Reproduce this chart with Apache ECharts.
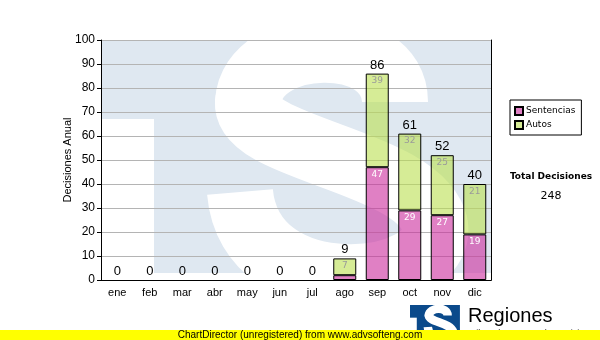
<!DOCTYPE html>
<html>
<head>
<meta charset="utf-8">
<script src="https://cdn.jsdelivr.net/npm/echarts@6/dist/echarts.min.js"></script>
<style>html,body{margin:0;padding:0;background:#fff}#c{width:600px;height:340px}</style>
</head>
<body>
<div id="c"></div>
<script>
const categories = ['ene','feb','mar','abr','may','jun','jul','ago','sep','oct','nov','dic'];
const sentencias = [0,0,0,0,0,0,0,2,47,29,27,19];
const autos = [0,0,0,0,0,0,0,7,39,32,25,21];
const totals = [0,0,0,0,0,0,0,9,86,61,52,40];
const yMin = 0, yMax = 100, yStep = 10;
const totalDecisiones = totals.reduce((a,b)=>a+b,0);

function mark(blue, white, top) {
  const sw = {stroke:white, lineWidth:66, fill:'none', lineCap:'butt'};
  return [
    {type:'rect', shape:{x:101,y:top,width:390,height:273-top}, style:{fill:blue}},
    {type:'rect', shape:{x:101,y:119,width:53,height:154}, style:{fill:white}},
    {type:'bezierCurve', shape:{x1:395,y1:102,cpx1:395,cpy1:30,cpx2:252,cpy2:35,x2:248,y2:102}, style:sw},
    {type:'bezierCurve', shape:{x1:248,y1:102,cpx1:245,cpy1:150,cpx2:420,cpy2:160,x2:435,y2:225}, style:sw},
    {type:'bezierCurve', shape:{x1:435,y1:225,cpx1:445,cpy1:290,cpx2:250,cpy2:310,x2:240,y2:192}, style:sw},
    {type:'circle', shape:{cx:248,cy:102,r:33}, style:{fill:white}},
    {type:'circle', shape:{cx:435,cy:225,r:33}, style:{fill:white}}
  ];
}
const withBorder = arr => arr.map(v => v === 0 ? {value:v, itemStyle:{borderWidth:0}} : v);

const chart = echarts.init(document.getElementById('c'), null, {renderer:'canvas'});
const fontA = 'Liberation Sans, Arial, sans-serif';
const fontV = 'DejaVu Sans, Verdana, sans-serif';
chart.setOption({
  animation:false,
  backgroundColor:'#fff',
  grid:{left:101,right:109,top:40,bottom:60,show:false},
  legend:{
    data:['Sentencias','Autos'], orient:'vertical', left:510, top:100,
    padding:[6,6,5,4], itemWidth:8, itemHeight:8, itemGap:4,
    borderColor:'#000', borderWidth:1, icon:'rect',
    textStyle:{fontFamily:fontV,fontSize:9,color:'#000',padding:[0,0,0,-2]}
  },
  xAxis:[{
    type:'category', data:categories,
    axisLine:{lineStyle:{color:'#000',width:1}},
    axisTick:{alignWithLabel:true,length:4,lineStyle:{color:'#000'}},
    axisLabel:{color:'#000',fontFamily:fontA,fontSize:11,margin:7},
    splitLine:{show:false}
  },{
    type:'category', data:categories, position:'top',
    axisLine:{show:true,lineStyle:{color:'#000',width:1}},
    axisTick:{show:false}, axisLabel:{show:false}, splitLine:{show:false}
  }],
  yAxis:[{
    type:'value', min:yMin, max:yMax, interval:yStep,
    name:'Decisiones Anual', nameLocation:'middle', nameGap:28, nameMoveOverlap:false,
    nameTextStyle:{fontFamily:fontA,fontSize:11,color:'#000'},
    axisLine:{show:true,lineStyle:{color:'#000'}},
    axisTick:{show:true,length:4,lineStyle:{color:'#000'}},
    axisLabel:{color:'#000',fontFamily:fontA,fontSize:12,margin:6},
    splitLine:{lineStyle:{color:'#b4b4b4',width:1}}
  },{
    type:'value', min:yMin, max:yMax, interval:yStep, position:'right',
    axisLine:{show:true,lineStyle:{color:'#000'}},
    axisTick:{show:false}, axisLabel:{show:false}, splitLine:{show:false}
  }],
  series:[
    {name:'Sentencias', type:'bar', stack:'a', barWidth:23, data:withBorder(sentencias),
     itemStyle:{color:'rgba(203,43,157,0.6)', borderColor:'#000', borderWidth:1},
     label:{show:true, position:'insideTop', distance:3, color:'#fff', fontFamily:fontV, fontSize:9,
       formatter:p=> p.value>=5 ? String(p.value) : ''}},
    {name:'Autos', type:'bar', stack:'a', barWidth:23, data:withBorder(autos),
     itemStyle:{color:'rgba(187,223,80,0.6)', borderColor:'#000', borderWidth:1},
     label:{show:true, position:'insideTop', distance:3, color:'#9a9a9a', fontFamily:fontV, fontSize:9,
       formatter:p=> p.value>=5 ? String(p.value) : ''}},
    {name:'Total', type:'bar', stack:'a', barWidth:23, data:totals.map(()=>0),
     itemStyle:{color:'rgba(0,0,0,0)', borderWidth:0},
     label:{show:true, position:'top', distance:2, color:'#000', fontFamily:fontA, fontSize:13,
       formatter:p=> String(totals[p.dataIndex])}}
  ],
  graphic:[
    {type:'group', z:-10, silent:true, children: mark('#dfe8f1','#fff',40)},
    {type:'group', x:410-101*0.128, y:305-20*0.128, scaleX:0.128, scaleY:0.128, z:5, silent:true,
     children: mark('#0b4a8b','#fff',20)},
    {type:'text', x:468, y:316, z:5, style:{text:'Regiones', font:'20px '+fontA, fill:'#000', textVerticalAlign:'middle'}},
    {type:'text', x:468, y:329, z:5, style:{text:'Tribunal Supremo de Justicia', font:'9px '+fontA, fill:'#333'}},
    {type:'text', x:551, y:177, z:5, style:{text:'Total Decisiones', font:'bold 9px '+fontV, fill:'#000', textAlign:'center', textVerticalAlign:'middle'}},
    {type:'text', x:551, y:196, z:5, style:{text:String(totalDecisiones), font:'11px '+fontV, fill:'#000', textAlign:'center', textVerticalAlign:'middle'}},
    {type:'rect', z:50, shape:{x:0,y:330,width:600,height:10}, style:{fill:'#ffff00'}},
    {type:'text', x:300, y:335, z:51, style:{text:'ChartDirector (unregistered) from www.advsofteng.com', font:'10px '+fontA, fill:'#000', textAlign:'center', textVerticalAlign:'middle'}}
  ]
});
</script>
</body>
</html>
